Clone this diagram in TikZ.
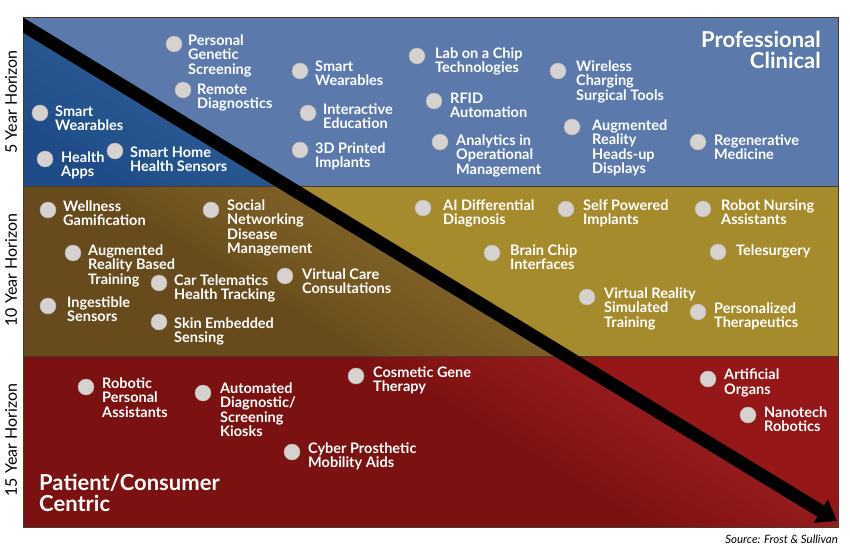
\documentclass[tikz,border=0pt]{standalone}
\usepackage{fontspec}
\setmainfont{Lato}
\usetikzlibrary{arrows.meta}
\definecolor{topLight}{HTML}{5B7AAB}
\definecolor{topDark}{HTML}{1F4C88}
\definecolor{topGlow}{HTML}{3A68A3}
\definecolor{midLight}{HTML}{A68B2D}
\definecolor{midDark}{HTML}{674B1C}
\definecolor{midGlow}{HTML}{957535}
\definecolor{botLight}{HTML}{961717}
\definecolor{botDark}{HTML}{7C1111}
\definecolor{botGlow}{HTML}{AD2A2A}
\definecolor{dotgray}{HTML}{D6D2D0}
\definecolor{dotedge}{HTML}{B8B2AE}
\definecolor{edgecol}{HTML}{4A3A2A}
\tikzset{
  dot/.style={circle, fill=dotgray, draw=dotedge, line width=0.4pt, minimum size=16pt, inner sep=0pt},
  lbl/.style={anchor=north west, inner sep=0pt, align=left, text=white, font=\bfseries\fontsize{14.5}{14.5}\selectfont},
  hz/.style={rotate=90, inner sep=0pt, text=black, font=\fontsize{16}{16}\selectfont},
  big/.style={inner sep=0pt, text=white, font=\bfseries\fontsize{22}{21}\selectfont},
  glowline/.style={line width=#1, opacity=0.08},
}
\newcommand\itm[6]{\node[dot] (d#1) at (#2,#3) {}; \node[lbl] (t#1) at (#4,#5-5.5) {#6};}
\begin{document}
\begin{tikzpicture}[x=1pt,y=-1pt]
\useasboundingbox (0,0) rectangle (850,548);
\fill[white] (0,0) rectangle (850,548);
\coordinate (A) at (23,25);
\coordinate (E) at (837,521);
\coordinate (A2) at (-17,0.6);
\coordinate (E2) at (880,547.2);
% bands, light side
\fill[topLight] (23,17) rectangle (838,186);
\fill[midLight] (23,186) rectangle (838,356);
\fill[botLight] (23,356) rectangle (838,527);
% dark sides
\fill[topDark] (23,25) -- (287.2,186) -- (23,186) -- cycle;
\begin{scope}
  \clip (23,25) -- (287.2,186) -- (23,186) -- cycle;
  \foreach \w in {20,40,...,160} \draw[topGlow, glowline=\w pt] (A2) -- (E2);
\end{scope}
\fill[midDark] (23,186) -- (287.2,186) -- (566.2,356) -- (23,356) -- cycle;
\begin{scope}
  \clip (23,186) -- (287.2,186) -- (566.2,356) -- (23,356) -- cycle;
  \foreach \w in {20,40,...,200} \draw[midGlow, glowline=\w pt] (A2) -- (E2);
\end{scope}
\fill[botDark] (23,356) -- (566.2,356) -- (838,521.6) -- (838,527) -- (23,527) -- cycle;
\begin{scope}
  \clip (23,356) -- (566.2,356) -- (838,521.6) -- (838,527) -- (23,527) -- cycle;
  \foreach \w in {20,40,...,200} \draw[botGlow, glowline=\w pt] (A2) -- (E2);
\end{scope}
% separators and frame
\draw[edgecol, line width=1pt] (23,186) -- (838,186);
\draw[edgecol, line width=1pt] (23,356) -- (838,356);
\draw[edgecol, line width=0.8pt] (23,17) rectangle (838,527);
% arrow
\begin{scope}
  \clip (23,17) rectangle (850,548);
  \draw[black, line width=13pt, -{Triangle[length=19pt,width=26pt]}] (A2) -- (E);
\end{scope}
% horizon labels
\node[hz] (h5) at (11,102) {5 Year Horizon};
\node[hz] (h10) at (11,270) {10 Year Horizon};
\node[hz] (h15) at (11,440) {15 Year Horizon};
% titles
\node[big, anchor=north east, align=right] (pc) at (821,31) {Professional\\Clinical};
\node[big, anchor=north west, align=left] (cc) at (39,474) {Patient/Consumer\\Centric};
\node[inner sep=0pt, anchor=base east, font=\itshape\fontsize{11.5}{11.5}\selectfont] (src) at (838,543) {Source: Frost \& Sullivan};
% items
\itm{1}{174}{44}{188}{40}{Personal\\Genetic\\Screening}
\itm{2}{183}{90}{197}{89}{Remote\\Diagnostics}
\itm{3}{40}{113}{55}{111}{Smart\\Wearables}
\itm{4}{45}{159}{61}{157}{Health\\Apps}
\itm{5}{115}{151}{130}{152}{Smart Home\\Health Sensors}
\itm{6}{300}{71}{315}{66}{Smart\\Wearables}
\itm{7}{308}{113}{323}{109}{Interactive\\Education}
\itm{8}{300}{150}{315}{148}{3D Printed\\Implants}
\itm{9}{417}{56}{435}{53}{Lab on a Chip\\Technologies}
\itm{10}{434}{101}{450}{98}{RFID\\Automation}
\itm{11}{440}{142}{456}{140}{Analytics in\\Operational\\Management}
\itm{12}{558}{71}{576}{66}{Wireless\\Charging\\Surgical Tools}
\itm{13}{572}{127}{592}{125}{Augmented\\Reality\\Heads-up\\Displays}
\itm{14}{698}{142}{714}{140}{Regenerative\\Medicine}
\itm{16}{48}{210}{63}{206}{Wellness\\Gamification}
\itm{17}{211}{210}{227}{205}{Social\\Networking\\Disease\\Management}
\itm{18}{73}{253}{88}{250}{Augmented\\Reality Based\\Training}
\itm{19}{159}{283}{174}{280}{Car Telematics\\Health Tracking}
\itm{20}{285}{276}{302}{274}{Virtual Care\\Consultations}
\itm{21}{48}{306}{67}{302}{Ingestible\\Sensors}
\itm{22}{159}{322}{174}{323}{Skin Embedded\\Sensing}
\itm{23}{423}{208}{443}{205}{AI Differential\\Diagnosis}
\itm{24}{566}{209}{583}{205}{Self Powered\\Implants}
\itm{25}{703}{209}{721}{205}{Robot Nursing\\Assistants}
\itm{26}{492}{253}{510}{250}{Brain Chip\\Interfaces}
\itm{27}{718}{252}{736}{250}{Telesurgery}
\itm{28}{587}{297}{604}{293}{Virtual Reality\\Simulated\\Training}
\itm{29}{698}{312}{714}{308}{Personalized\\Therapeutics}
\itm{30}{86}{387}{102}{383}{Robotic\\Personal\\Assistants}
\itm{31}{203}{393}{220}{388}{Automated\\Diagnostic/\\Screening\\Kiosks}
\itm{32}{356}{376}{373}{372}{Cosmetic Gene\\Therapy}
\itm{33}{292}{452}{308}{448}{Cyber Prosthetic\\Mobility Aids}
\itm{35}{708}{379}{724}{374}{Artificial\\Organs}
\itm{36}{748}{415}{764}{412}{Nanotech\\Robotics}
\end{tikzpicture}
\end{document}
